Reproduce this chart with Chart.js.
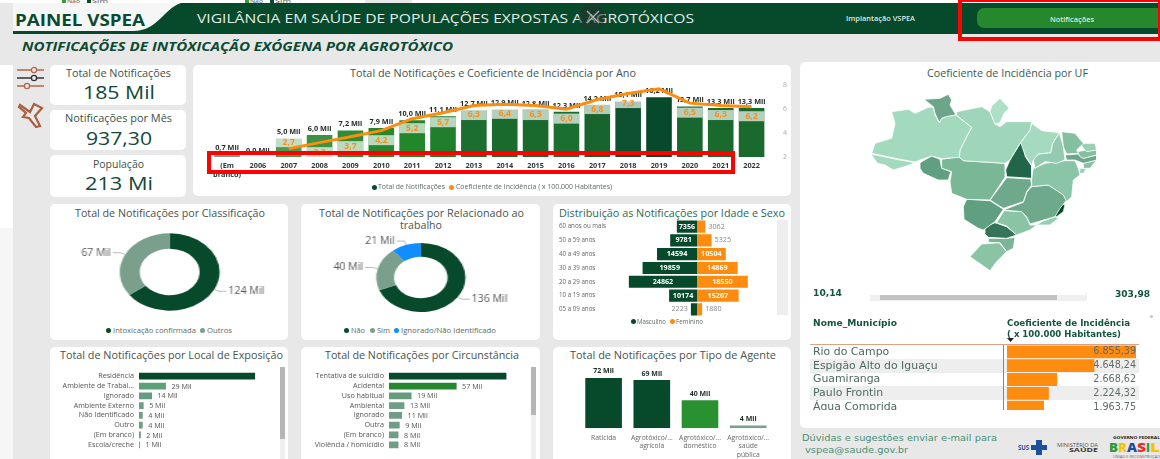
<!DOCTYPE html>
<html lang="pt-BR"><head><meta charset="utf-8"><title>Painel VSPEA</title>
<script src="https://cdn.jsdelivr.net/npm/chart.js@4"></script>
<style>
html,body{margin:0;padding:0;width:1160px;height:459px;overflow:hidden;background:#fff}
#stage{position:absolute;left:0;top:0;width:1160px;height:459px;overflow:hidden;filter:blur(.35px);background:#fff}
.box{position:absolute}
.t{position:absolute;white-space:nowrap;line-height:1;font-family:"Open Sans",sans-serif;transform-origin:0 50%}
canvas{position:absolute;transform-origin:0 0}
</style></head><body><div id="stage"></div>
<script>
/* ---------- data ---------- */
const years=['(Em branco)','2006','2007','2008','2009','2010','2011','2012','2013','2014','2015','2016','2017','2018','2019','2020','2021','2022'];
const notifMil=[0.7,0.0,5.0,6.0,7.2,7.9,10.0,11.1,12.7,12.9,12.8,12.3,14.2,15.1,16.2,13.7,13.3,13.3];
const coefAno=[null,null,2.7,3.2,3.7,4.2,5.2,5.7,6.3,6.4,6.3,6.0,6.8,7.3,7.7,6.5,6.3,6.2];
const coefTicks=[2,4,6,8];
const classifLabels=['Intoxicação confirmada','Outros'];
const classifValues=[124,67];
const trabalhoLabels=['Não','Sim','Ignorado/Não Identificado'];
const trabalhoValues=[136,40,21];
const faixas=['60 anos ou mais','50 a 59 anos','40 a 49 anos','30 a 39 anos','20 a 29 anos','10 a 19 anos','05 a 09 anos'];
const masculino=[7356,9781,14594,19859,24862,10174,2223];
const feminino=[3062,5325,10504,14869,18550,15207,1880];
const localLabels=['Residência','Ambiente de Trabal...','Ignorado','Ambiente Externo','Não Identificado','Outro','(Em branco)','Escola/creche'];
const localValues=[125,29,14,5,4,4,2,1];
const circLabels=['Tentativa de suicídio','Acidental','Uso habitual','Ambiental','Ignorado','Outra','(Em branco)','Violência / homicídio'];
const circValues=[99,57,19,13,11,9,8,8];
const agenteLabels=['Raticida',['Agrotóxico/...','agrícola'],['Agrotóxico/...','doméstico'],['Agrotóxico/...','saúde','pública']];
const agenteValues=[72,69,40,4];
const municipios=['Rio do Campo','Espigão Alto do Iguaçu','Guamiranga','Paulo Frontin','Água Comprida'];
const municipioCoef=[6855.39,4648.24,2668.62,2224.32,1963.75];
const ufCodes=['AC','AM','RR','AP','PA','MA','TO','PI','CE','RN','PB','PE','AL','SE','BA','RO','MT','GO','DF','MS','MG','ES','RJ','SP','PR','SC','RS'];
const ufOutlines=[
[[213,462],[300,480],[345,488],[320,498],[280,510],[255,495],[232,490]],
[[275,335],[325,328],[345,340],[385,322],[400,322],[405,345],[418,368],[425,355],[440,350],[468,345],[480,355],[515,382],[505,400],[480,450],[478,472],[425,476],[395,468],[360,480],[345,486],[300,478],[215,460],[225,430],[275,415],[285,370]],
[[372,298],[420,295],[445,283],[455,300],[450,315],[468,345],[440,350],[425,355],[418,368],[405,340],[400,320]],
[[575,318],[600,295],[628,325],[612,340],[600,368],[585,372],[570,335]],
[[468,345],[470,335],[545,320],[570,335],[585,372],[600,380],[620,365],[695,365],[690,390],[662,427],[645,455],[630,480],[615,490],[535,485],[490,482],[478,472],[480,450],[505,400],[515,382],[480,355]],
[[695,370],[725,392],[778,398],[758,430],[752,458],[715,462],[700,480],[695,497],[675,465],[662,427],[690,390]],
[[662,428],[672,440],[676,470],[695,498],[695,535],[620,530],[617,510],[630,480],[645,455]],
[[778,398],[790,440],[795,480],[770,490],[735,485],[705,505],[700,480],[715,462],[752,458],[758,430]],
[[785,395],[825,400],[850,430],[830,450],[835,460],[800,462],[790,440]],
[[840,430],[885,430],[890,450],[860,455],[850,445]],
[[832,455],[860,450],[890,450],[890,465],[850,475],[840,470]],
[[795,465],[835,462],[850,475],[890,465],[890,480],[850,490],[825,480],[800,480]],
[[850,490],[890,480],[870,505],[850,505]],
[[840,505],[860,505],[850,520],[838,520]],
[[700,505],[735,490],[795,482],[825,482],[835,505],[840,525],[820,540],[815,590],[800,605],[790,585],[745,555],[695,560],[695,530]],
[[360,488],[395,468],[420,478],[425,505],[452,515],[445,540],[415,540],[370,520],[360,505]],
[[425,478],[478,470],[490,482],[615,490],[617,510],[615,530],[570,600],[500,598],[455,580],[450,545],[455,515],[425,505]],
[[620,533],[692,537],[695,555],[680,575],[670,605],[610,625],[570,600]],
[[655,570],[678,570],[678,580],[655,578]],
[[500,598],[570,602],[610,628],[585,665],[550,690],[535,685],[492,658],[490,620]],
[[695,560],[745,555],[795,582],[800,600],[780,625],[765,650],[690,672],[680,650],[665,635],[610,630],[670,607],[680,577]],
[[780,608],[795,615],[790,635],[770,650],[762,645]],
[[765,650],[775,655],[750,675],[710,675],[725,665]],
[[612,632],[665,635],[680,652],[690,675],[710,675],[690,690],[650,705],[620,678],[590,668]],
[[585,668],[620,680],[650,705],[620,715],[565,712],[552,700],[555,680]],
[[565,715],[620,715],[645,712],[640,745],[620,755],[600,728],[565,727]],
[[545,732],[598,728],[620,755],[590,785],[570,812],[510,770]]
];
const ufColors=['#a3d9bd','#a3d9bd','#6ba68a','#aee0c8','#9fd6ba','#a6dabf','#22664a','#94cbaf','#84bf9f','#9ad1b6','#84bf9f','#6ba68a','#88c2a4','#9ad1b6','#8bc5a8','#60a081','#7ab797','#6ea98b','#cfe9dc','#60a081','#6ea98b','#064a2b','#94cfb1','#8ac4a5','#36745a','#79b596','#8ac4a5'];

/* ---------- helpers ---------- */
const stage=document.getElementById('stage');
const DARK='#064a2b',GREEN='#25882c',GREY='#7a9f8c',ORANGE='#ff8c0f',BLUE='#118dff';
const FF='"Open Sans",sans-serif';
const NOGRID={display:false,drawTicks:false};
function box(x,y,w,h,bg,extra){const d=document.createElement('div');d.className='box';
 d.style.cssText=`left:${x}px;top:${y}px;width:${w}px;height:${h}px;background:${bg};${extra||''}`;stage.appendChild(d);return d;}
function card(x1,y1,x2,y2){return box(x1,y1,x2-x1,y2-y1,'#fff','border-radius:5px');}
function txt(s,x1,x2,yc,size,o){o=o||{};const d=document.createElement('div');d.className='t';d.textContent=s;
 d.style.left=x1+'px';d.style.top=yc+'px';d.style.fontSize=size+'px';d.style.color=o.color||'#445';
 if(o.weight)d.style.fontWeight=o.weight;if(o.style)d.style.fontStyle=o.style;if(o.font)d.style.fontFamily=o.font;
 stage.appendChild(d);const k=(x2-x1)/d.getBoundingClientRect().width;
 d.style.transform=`translateY(-50%) scaleX(${k})`;return d;}
function dot(x,y,c){box(x-2.5,y-2.5,5,5,c,'border-radius:50%');}
function mk(r,cfg){
 const S=r.S||1,a=r.area;
 const c=document.createElement('canvas');const w=r.w/S;
 c.width=w;c.height=r.h;c.style.width=w+'px';c.style.height=r.h+'px';
 c.style.left='0px';c.style.top='0px';
 if(S!==1)c.style.transform=`scaleX(${S})`;
 const holder=document.createElement('div');holder.className='box';
 holder.style.cssText=`left:${r.x}px;top:${r.y}px;width:${r.w}px;height:${r.clipH||r.h}px;overflow:hidden`;
 holder.appendChild(c);stage.appendChild(holder);
 cfg.options=Object.assign({responsive:false,animation:false,devicePixelRatio:1,maintainAspectRatio:false,
  layout:{padding:{left:(a.l-r.x)/S-(r.axisW||0),top:a.t-r.y,right:(r.x+r.w-a.r)/S-(r.axisR||0),bottom:r.y+r.h-a.b-(r.axisH||0)}},
  plugins:{legend:{display:false},tooltip:{enabled:false}}},cfg.options);
 return new Chart(c,cfg);
}
const fixW=w=>s=>{s.width=w;};
const fixH=h=>s=>{s.height=h;};
function font(sz,wt){return {family:FF,size:sz,weight:wt||'normal'};}
function hbar(rect,labels,values,colors,maxV,thick,showFirst){
 mk(rect,{type:'bar',data:{labels,datasets:[{data:values,backgroundColor:colors,categoryPercentage:1,barPercentage:thick}]},
 options:{indexAxis:'y',scales:{
  x:{display:false,min:0,max:maxV},
  y:{grid:NOGRID,border:{display:false},afterFit:fixW(rect.axisW),ticks:{color:'#555',font:font(7.2),padding:5,autoSkip:false}}}},
 plugins:[{id:'vals',afterDatasetsDraw(ch){const g=ch.ctx,m=ch.getDatasetMeta(0);g.save();g.font='7.2px '+FF;g.fillStyle='#555';g.textAlign='left';g.textBaseline='middle';
  m.data.forEach((b,i)=>{if(i===0&&!showFirst)return;g.fillText(values[i]+' Mil',b.x+5.5,b.y+.5);});g.restore();}}]});
}
function donut(rect,labels,values,colors,textSize){
 mk(rect,{type:'doughnut',data:{labels,datasets:[{data:values,backgroundColor:colors,borderWidth:0}]},
 options:{cutout:'60%',plugins:{legend:{display:false},tooltip:{enabled:false}}},
 plugins:[{id:'leaders',afterDatasetsDraw(ch){const g=ch.ctx,m=ch.getDatasetMeta(0);g.save();g.font=textSize+'px '+FF;g.textBaseline='middle';
  m.data.forEach((a,i)=>{const mid=(a.startAngle+a.endAngle)/2,c=Math.cos(mid),s=Math.sin(mid),R=a.outerRadius;
   const x0=a.x+c*R,y0=a.y+s*R,x1=a.x+c*(R+4),y1=a.y+s*(R+4),dir=c>=0?1:-1,x2=x1+dir*6;
   g.strokeStyle='#a8a8a8';g.lineWidth=.8;g.beginPath();g.moveTo(x0,y0);g.lineTo(x1,y1);g.lineTo(x2,y1);g.stroke();
   const label=values[i]+' Mil';
   g.fillStyle='#555';g.textAlign=dir>0?'left':'right';g.fillText(label,x2+dir*1.5,y1,g.measureText(label).width*.78);});g.restore();}}]});
}

/* ---------- page frame ---------- */
box(0,3,1160,456,'#e8e8e8');
box(0,65,13,163,'#ffffff');box(0,228,13,231,'#f6f6f6');
box(365,0,47,3,'#e8e8e8');
box(62,0,4,3,'#3c9a3c');txt('Não',67,80,0.5,5,{color:'#555'});box(87,0,4,3,DARK);txt('Sim',92,108,0.5,5,{color:'#555'});
box(245,0,4,3,'#3c9a3c');txt('Não',250,263,0.5,5,{color:'#555'});box(270,0,4,3,DARK);txt('Sim',275,291,0.5,5,{color:'#555'});
box(13,3,1147,31,DARK);
stage.insertAdjacentHTML('beforeend','<svg class="box" style="position:absolute;left:13px;top:3px" width="180" height="30"><path d="M0 0H168C150 6 145 28 120 28H0Z" fill="#f6f6f6"/></svg>');
txt('PAINEL VSPEA',15,145,20,16,{color:'#0a4a30',weight:700});
txt('VIGILÂNCIA EM SAÚDE DE POPULAÇÕES EXPOSTAS A AGROTÓXICOS',197,694,18,13,{color:'#e4ece8'});
box(579,4,26,26,'rgba(40,50,45,.55)','border-radius:50%');
stage.insertAdjacentHTML('beforeend','<svg class="box" style="position:absolute;left:585px;top:9px" width="16" height="16"><path d="M2 2L14 14M14 2L2 14" stroke="#aab3ae" stroke-width="1.4"/></svg>');
txt('Implantação VSPEA',846,915,18,7,{color:'#dfe9e4',weight:600});
box(977,8,190,20,GREEN,'border-radius:7px');
txt('Notificações',1050,1094,18.5,7,{color:'#dfe9e4',weight:600});
txt('NOTIFICAÇÕES DE INTÓXICAÇÃO EXÓGENA POR AGROTÓXICO',22,453,47,12.5,{color:'#0b4a33',weight:700,style:'italic'});

/* icons */
stage.insertAdjacentHTML('beforeend',`<svg class="box" style="position:absolute;left:16px;top:66px" width="30" height="62" fill="none">
<g stroke="#b5674a" stroke-width="1.3"><path d="M1 4H15M21 4H28M1 20H8M14 20H28"/><circle cx="18" cy="4" r="2.6"/><circle cx="11" cy="20" r="2.6"/></g>
<g stroke="#333" stroke-width="1.3"><path d="M1 12H15M21 12H28"/><circle cx="18" cy="12" r="2.6"/></g>
<path d="M4 39L14 46L18 38L26 42L19 50L24 60L20 61L13 52L7 51L10 47L3 41Z" stroke="#a9603f" stroke-width="2.2"/></svg>`);

/* KPI cards */
card(50,65,186,105);card(50,110,186,150);card(50,155,186,197);
const kc={color:'#3d4f48'},kv={color:'#11483a'};
txt('Total de Notificações',66,171,72.5,10,kc);txt('185 Mil',83,155,91.5,19,kv);
txt('Notificações por Mês',65,172,118,10,kc);txt('937,30',86,152,137.5,19,kv);
txt('População',93,144,163.5,10,kc);txt('213 Mi',85,153,183,19,kv);

/* cards */
card(193,65,791,196);
[[50,288],[301,540],[553,791]].forEach(([a,b])=>{card(a,204,b,340);card(a,347,b,470);});
card(800,62,1170,428);

const tc={color:'#46544f'};
txt('Total de Notificações e Coeficiente de Incidência por Ano',350,636,72.5,10,tc);
txt('Total de Notificações por Classificação',75,265,212.5,10,tc);
txt('Total de Notificações por Relacionado ao',319,524,212.5,10,tc);
txt('trabalho',400,442,225,10,tc);
txt('Distribuição as Notificações por Idade e Sexo',559,785,212.5,10,{color:'#2c6a58'});
txt('Total de Notificações por Local de Exposição',60,283,355,10,tc);
txt('Total de Notificações por Circunstância',325,519,355,10,tc);
txt('Total de Notificações por Tipo de Agente',570,776,355,10,tc);

/* ---------- combo chart ---------- */
const barColors=['#7a9e8c','#d5e5dc','#4a9a4f','#3d9140','#2e8b36','#25882c','#22862a','#1f7f2c','#1b6e2f','#1a6a2e','#1a6a2e','#1b6f30','#17642e','#0c5230','#064a2b','#18672e','#1a6a2e','#1a6a2e'];
const yearTicks=years.map(y=>y==='(Em branco)'?['(Em','branco)']:y);
const hiddenCoefLabel='2019', aboveCoefLabel='2007';
mk({x:193,y:65,w:598,h:131,axisH:24,axisR:24,area:{l:211.6,t:84.5,r:767,b:157}},{
 data:{labels:yearTicks,datasets:[
  {type:'line',data:coefAno,yAxisID:'yc',borderColor:'#ff8c0f',borderWidth:3,pointRadius:0,tension:0,order:1,spanGaps:false},
  {type:'bar',data:notifMil,yAxisID:'yb',backgroundColor:barColors,categoryPercentage:1,barPercentage:.83,order:2}]},
 options:{scales:{
  x:{grid:NOGRID,border:{display:false},afterFit:fixH(24),ticks:{maxRotation:0,autoSkip:false,color:'#2c3a34',font:Object.assign(font(7.3,'700'),{lineHeight:1.2}),padding:5}},
  yb:{display:false,min:0,max:19.5},
  yc:{position:'right',min:2,max:8,grid:NOGRID,border:{display:false},afterFit:fixW(24),
    afterBuildTicks:s=>{s.ticks=coefTicks.map(v=>({value:v}));},
    ticks:{color:'#aaa',font:font(7),padding:16}}}},
 plugins:[{id:'combo',
  afterDatasetDraw(ch,args){ if(args.index!==1)return;
   const g=ch.ctx,bars=ch.getDatasetMeta(1).data,line=ch.getDatasetMeta(0).data;g.save();
   bars.forEach((b,i)=>{ if(coefAno[i]==null||years[i]===hiddenCoefLabel)return;
     const cy=line[i].y+(years[i]===aboveCoefLabel?-6.5:9.5);
     g.fillStyle='rgba(255,255,255,.68)';g.fillRect(b.x-b.width/2,cy-5,b.width,10);});
   g.font='700 7.3px '+FF;g.fillStyle='#1e2a25';g.textAlign='center';g.textBaseline='middle';
   bars.forEach((b,i)=>{g.fillText(notifMil[i].toFixed(1).replace('.',',')+' Mil',b.x,b.y-6.2);});
   g.restore();},
  afterDatasetsDraw(ch){const g=ch.ctx,line=ch.getDatasetMeta(0).data;g.save();
   g.font='700 8.6px '+FF;g.fillStyle='#f7911e';g.textAlign='center';g.textBaseline='middle';
   line.forEach((p,i)=>{ if(coefAno[i]==null||years[i]===hiddenCoefLabel)return;
     g.fillText(coefAno[i].toFixed(1).replace('.',','),p.x,p.y+(years[i]===aboveCoefLabel?-6.5:9.5));});
   g.restore();}}]
});
box(206.7,151,528.3,23,'transparent','border:4.5px solid #f00;box-sizing:border-box');
const lg={color:'#5c6a64'};
dot(374,187,DARK);txt('Total de Notificações',378,445,187,7.2,lg);
dot(451.5,187,ORANGE);txt('Coeficiente de Incidência ( x 100.000 Habitantes)',456,612,187,7.2,lg);

/* ---------- doughnuts ---------- */
const S=1.29;
donut({x:50,y:226,w:238,h:92,S,area:{l:170-50.5,t:233.3,r:170+50.5,b:310.7}},classifLabels,classifValues,[DARK,GREY],10.5);
dot(108.5,330.7,DARK);txt('Intoxicação confirmada',113,196,330.7,7.2,lg);
dot(202.5,330.7,GREY);txt('Outros',207,232,330.7,7.2,lg);
donut({x:301,y:232,w:239,h:92,S,area:{l:421-44.8,t:242.3,r:421+44.8,b:312.7}},trabalhoLabels,trabalhoValues,[DARK,GREY,BLUE],10.5);
dot(346,330.7,DARK);txt('Não',351,365,330.7,7.2,lg);
dot(372,330.7,GREY);txt('Sim',377,390,330.7,7.2,lg);
dot(396.4,330.7,BLUE);txt('Ignorado/Não Identificado',401,496,330.7,7.2,lg);

/* ---------- population pyramid ---------- */
box(777,220,11,95,'#eeeeee');
mk({x:553,y:214,w:238,h:106,axisW:64,area:{l:623,t:219.7,r:771,b:317}},{type:'bar',
 data:{labels:faixas,datasets:[
  {label:'Masculino',data:masculino.map(v=>-v),backgroundColor:DARK,categoryPercentage:1,barPercentage:.88,stack:'s'},
  {label:'Feminino',data:feminino,backgroundColor:ORANGE,categoryPercentage:1,barPercentage:.88,stack:'s'}]},
 options:{indexAxis:'y',scales:{
  x:{display:false,min:-27000,max:27000,stacked:true},
  y:{stacked:true,grid:NOGRID,border:{display:false},afterFit:fixW(64),ticks:{crossAlign:'far',color:'#666',font:font(6.2),padding:0,autoSkip:false}}}},
 plugins:[{id:'pyr',afterDatasetsDraw(ch){const g=ch.ctx;g.save();g.textBaseline='middle';
  [masculino,feminino].forEach((arr,ds)=>{ch.getDatasetMeta(ds).data.forEach((b,i)=>{
    const v=arr[i],inside=v>=7000;
    g.font=(inside?'700 ':'')+'7.2px '+FF;
    if(inside){g.fillStyle='#fff';g.textAlign='center';g.fillText(v,(b.x+b.base)/2,b.y);}
    else{g.fillStyle='#888';g.textAlign=ds?'left':'right';g.fillText(v,b.x+(ds?3:-3),b.y);}
  });});g.restore();}}]});
dot(633,321.7,DARK);txt('Masculino',637,666,321.7,6.5,lg);
dot(672,321.7,ORANGE);txt('Feminino',676,703,321.7,6.5,lg);

/* ---------- bottom row ---------- */
box(280,367,5,92,'#efefef');box(280,367,5,72,'#b5b5b5');
hbar({x:51,y:362,w:229,h:97,axisW:88,area:{l:139,t:369.7,r:269,b:454.3}},localLabels,localValues,
 ['#064a2b','#5da178','#669b7f','#6f9d85','#6f9d85','#6f9d85','#6f9d85','#6f9d85'],140,.69,false);
box(531,367,5,92,'#efefef');box(531,367,5,48,'#b5b5b5');
hbar({x:301,y:362,w:230,h:97,axisW:88,area:{l:389,t:369.7,r:507.6,b:454.3}},circLabels,circValues,
 ['#064a2b','#25882c','#669b7f','#6f9d85','#6f9d85','#6f9d85','#6f9d85','#6f9d85'],100,.69,false);
mk({x:553,y:362,w:238,h:97,axisH:30,area:{l:579.5,t:370,r:772.3,b:428.3}},{type:'bar',
 data:{labels:agenteLabels,datasets:[{data:agenteValues,backgroundColor:[DARK,DARK,'#2a9130',GREY],categoryPercentage:1,barPercentage:.76}]},
 options:{scales:{y:{display:false,min:0,max:83.3},
  x:{grid:NOGRID,border:{display:false},afterFit:fixH(30),ticks:{maxRotation:0,autoSkip:false,color:'#666',font:Object.assign(font(6.8),{lineHeight:1.2}),padding:6}}}},
 plugins:[{id:'ag',afterDatasetsDraw(ch){const g=ch.ctx;g.save();g.font='700 7px '+FF;g.fillStyle='#1e2a25';g.textAlign='center';g.textBaseline='middle';
  ch.getDatasetMeta(0).data.forEach((b,i)=>g.fillText(agenteValues[i]+' Mil',b.x,b.y-6.5));g.restore();}}]});

/* ---------- map ---------- */
txt('Coeficiente de Incidência por UF',927,1088,72.5,10,{color:'#3b5a50'});
mk({x:800,y:62,w:360,h:218,area:{l:800,t:62,r:1160,b:280}},{type:'scatter',
 data:{datasets:ufCodes.map((uf,i)=>({label:uf,data:ufOutlines[i].concat([ufOutlines[i][0]]).map(p=>({x:p[0],y:p[1]})),
   showLine:true,fill:'shape',backgroundColor:ufColors[i],borderColor:'#fff',borderWidth:.8,pointRadius:0,tension:0}))},
 options:{scales:{x:{display:false,min:0,max:1080},y:{display:false,min:186,max:840,reverse:true}}}});
txt('10,14',813,842,293,9,{color:'#14543c',weight:700,font:'"DejaVu Sans"'});
box(870,295,217,6,'#f0f0f0');box(880,295,177,5,'#c2c2c2');box(1086,293,1,1,'#ddd');
txt('303,98',1115,1150,294,9,{color:'#14543c',weight:700,font:'"DejaVu Sans"'});

/* ---------- table ---------- */
const hc={color:'#14543c',weight:700,font:'"DejaVu Sans"'};
txt('Nome_Município',813,897,322.5,8.5,hc);
txt('Coeficiente de Incidência',1007,1130,322.5,8.5,hc);
txt('( x 100.000 Habitantes)',1007,1121,333.5,8.5,hc);
stage.insertAdjacentHTML('beforeend','<svg class="box" style="position:absolute;left:1007px;top:338px" width="8" height="5"><path d="M0 0H7L3.5 4Z" fill="#222"/></svg>');
box(810,344,329,1,'#dca383');
box(810,358.8,329,13.8,'#eeeeee');box(810,386.4,329,13.6,'#eeeeee');
box(1003,345,1,65,'#b9765a');
mk({x:806,y:335,w:335,h:89,clipH:75,axisW:194,area:{l:1007,t:345,r:1136,b:414}},{type:'bar',
 data:{labels:municipios,datasets:[{data:municipioCoef,backgroundColor:ORANGE,categoryPercentage:1,barPercentage:.93}]},
 options:{indexAxis:'y',scales:{x:{display:false,min:0,max:6855.39},
  y:{grid:NOGRID,border:{display:false},afterFit:fixW(194),ticks:{crossAlign:'far',color:'#4e6a5f',font:{family:'"DejaVu Sans"',size:10.9},padding:0,autoSkip:false}}}},
 plugins:[{id:'tv',afterDatasetsDraw(ch){const g=ch.ctx;g.save();g.font='9.6px "DejaVu Sans"';g.fillStyle='#5f6b66';g.textAlign='right';g.textBaseline='middle';
  ch.getDatasetMeta(0).data.forEach((b,i)=>g.fillText(municipioCoef[i].toLocaleString('pt-BR',{minimumFractionDigits:2}),ch.chartArea.right,b.y));g.restore();}}]});
box(1150,315,3,3,'#c4c4c4','border-radius:50%');

/* ---------- footer ---------- */
const fc={color:'#4a8f73',font:'"DejaVu Sans"'};
txt('Dúvidas e sugestões enviar e-mail para',802,997,437.5,9.5,fc);
txt('vspea@saude.gov.br',805,908,449.5,9.5,fc);
txt('SUS',1018,1029,447.5,6.5,{color:'#1c4f9c',weight:700});
box(1031,445,16,5,'#1c4f9c');box(1036,440,6,15,'#1c4f9c');
txt('MINISTÉRIO DA',1057,1098,444.5,4.5,{color:'#555'});
txt('SAÚDE',1069,1098,450,4.5,{color:'#333',weight:700});
txt('GOVERNO FEDERAL',1113,1160,437.7,4,{color:'#222',weight:700});
[['B','#2a9a3c',1109,1118],['R','#f5c400',1118,1127],['A','#1c4f9c',1127,1137],['S','#e7312a',1137,1146],['I','#2a9a3c',1146,1150],['L','#f5c400',1150,1160]].forEach(l=>txt(l[0],l[2],l[3],447,13,{color:l[1],weight:800}));
txt('UNIÃO E RECONSTRUÇÃO',1113,1160,456.5,3.5,{color:'#666'});
/* red frame on top */
box(958,-2,204,43,'transparent','border:4.5px solid #f00;box-sizing:border-box');
</script></body></html>
